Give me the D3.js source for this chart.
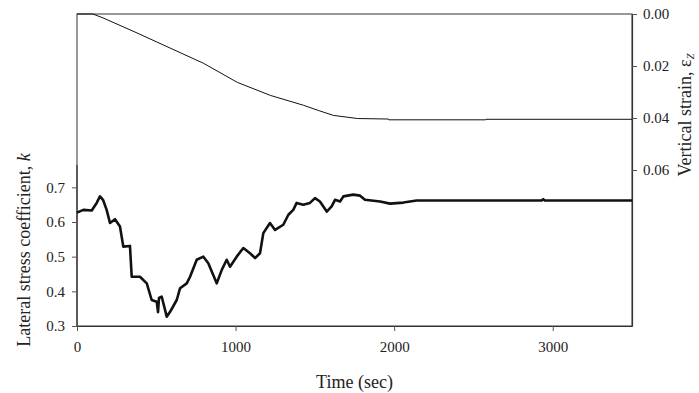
<!DOCTYPE html>
<html>
<head>
<meta charset="utf-8">
<script src="https://cdn.jsdelivr.net/npm/d3@7"></script>
<style>
  body { margin: 0; background: #fff; }
  svg text { font-family: "Liberation Serif", "DejaVu Serif", serif; fill: #222; }
</style>
</head>
<body>
<div id="chart"></div>
<script>
// time (sec) and lateral stress coefficient k
var kTime = [0, 40, 93, 124, 145, 164, 187, 208, 240, 271, 292, 334, 345, 397, 440, 471, 503, 511, 517, 534,
	566, 587, 629, 650, 692, 713, 755, 797, 828, 881, 913, 944, 965, 1007, 1049, 1091, 1123, 1154, 1175,
	1217, 1249, 1301, 1333, 1364, 1385, 1427, 1469, 1501, 1532, 1575, 1606, 1627, 1659, 1680, 1742, 1785,
	1816, 1911, 1974, 2058, 2142, 2930, 2940, 2950, 3500];
var kValue = [0.627, 0.635, 0.633, 0.655, 0.674, 0.664, 0.635, 0.597, 0.608, 0.587, 0.529, 0.531, 0.442, 0.442,
	0.423, 0.375, 0.370, 0.340, 0.381, 0.385, 0.327, 0.341, 0.375, 0.409, 0.423, 0.442, 0.491, 0.500, 0.481,
	0.423, 0.462, 0.491, 0.471, 0.500, 0.525, 0.510, 0.496, 0.510, 0.568, 0.597, 0.577, 0.592, 0.621, 0.635,
	0.655, 0.650, 0.655, 0.669, 0.659, 0.630, 0.645, 0.664, 0.659, 0.674, 0.679, 0.676, 0.664, 0.659, 0.653,
	0.656, 0.662, 0.662, 0.666, 0.662, 0.662];

// time (sec) and vertical strain
var strainTime = [0, 100, 164, 379, 587, 796, 1011, 1219, 1428, 1522, 1617, 1769, 1965, 1966, 2577, 2578, 3500];
var strainValue = [0, 0, 0.0015, 0.0073, 0.0131, 0.0189, 0.0263, 0.0313, 0.0351, 0.0371, 0.0390, 0.0402,
	0.0404, 0.0407, 0.0407, 0.0405, 0.0405];

var xTicks = [0, 1000, 2000, 3000];
var kTicks = [0.3, 0.4, 0.5, 0.6, 0.7];
var strainTicks = [0, 0.02, 0.04, 0.06];

var width = 699, height = 393;
var mLeft = 77, mRight = 632, mTop = 14, mBottom = 326;

var svg = d3.select("#chart").append("svg")
	.attr("width", width)
	.attr("height", height);

var x = d3.scaleLinear().domain([0, 3500]).range([mLeft, mRight]);
var yK = d3.scaleLinear().domain([0.3, 1.2]).range([mBottom, mTop]);
var yS = d3.scaleLinear().domain([0, 0.12]).range([mTop, mBottom]);

// frame
svg.append("rect")
	.attr("x", mLeft).attr("y", mTop)
	.attr("width", mRight - mLeft).attr("height", mBottom - mTop)
	.attr("fill", "none").attr("stroke", "#555").attr("stroke-width", 1.2);

function styleAxis(g) {
	g.select(".domain").attr("stroke", "#333").attr("stroke-width", 1.2);
	g.selectAll(".tick line").attr("stroke", "#555");
	g.selectAll(".tick text").attr("font-size", 15).attr("fill", "#222");
}

svg.append("g")
	.attr("transform", "translate(0," + mBottom + ")")
	.call(d3.axisBottom(x).tickValues(xTicks).tickFormat(d3.format("d")).tickSize(5).tickPadding(10).tickSizeOuter(0))
	.call(styleAxis);

svg.append("g")
	.attr("transform", "translate(" + mLeft + ",0)")
	.call(d3.axisLeft(yK).tickValues(kTicks).tickFormat(d3.format(".1f")).tickSize(5).tickPadding(7).tickSizeOuter(0))
	.call(styleAxis)
	.select(".domain").attr("d", "M0," + mBottom + "V" + 165);

svg.append("g")
	.attr("transform", "translate(" + mRight + ",0)")
	.call(d3.axisRight(yS).tickValues(strainTicks).tickFormat(d3.format(".2f")).tickSize(5).tickPadding(6).tickSizeOuter(0))
	.call(styleAxis);

// vertical strain line
var strainLine = d3.line()
	.x(function (d, i) { return x(strainTime[i]); })
	.y(function (d) { return yS(d); });

svg.append("path")
	.datum(strainValue)
	.attr("d", strainLine)
	.attr("fill", "none")
	.attr("stroke", "#111")
	.attr("stroke-width", 1);

// lateral stress coefficient line
var kLine = d3.line()
	.x(function (d, i) { return x(kTime[i]); })
	.y(function (d) { return yK(d); });

svg.append("path")
	.datum(kValue)
	.attr("d", kLine)
	.attr("fill", "none")
	.attr("stroke", "#111")
	.attr("stroke-width", 2.6)
	.attr("stroke-linejoin", "round");

// axis titles
svg.append("text")
	.attr("x", (mLeft + mRight) / 2)
	.attr("y", 388)
	.attr("text-anchor", "middle")
	.attr("font-size", 18)
	.text("Time (sec)");

var lt = svg.append("text")
	.attr("transform", "translate(30,250) rotate(-90)")
	.attr("text-anchor", "middle")
	.attr("font-size", 18);
lt.append("tspan").text("Lateral stress coefficient, ");
lt.append("tspan").attr("font-style", "italic").text("k");

var rt = svg.append("text")
	.attr("transform", "translate(691,115) rotate(-90)")
	.attr("text-anchor", "middle")
	.attr("font-size", 18);
rt.append("tspan").text("Vertical strain, ε");
rt.append("tspan").attr("font-size", 11).attr("dy", 3).attr("font-style", "italic").text("Z");
</script>
</body>
</html>
